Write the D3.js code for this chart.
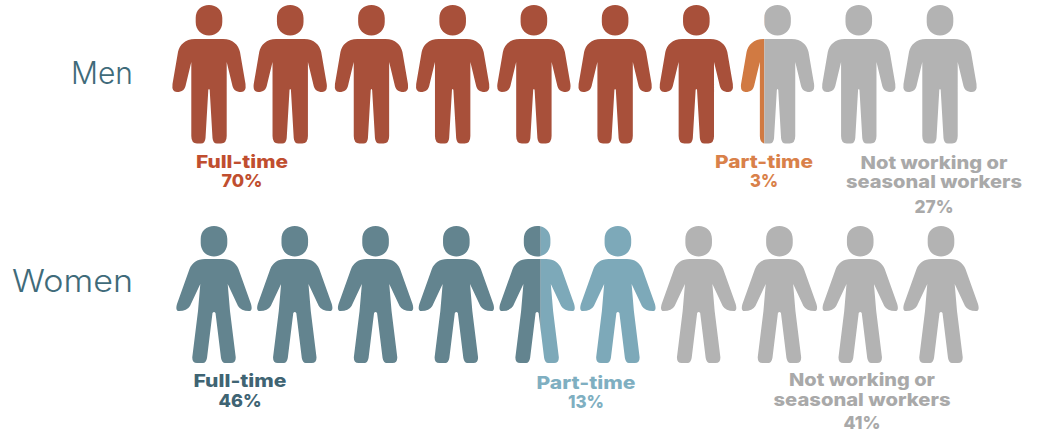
<!DOCTYPE html>
<html>
<head>
<meta charset="utf-8">
<script src="https://cdn.jsdelivr.net/npm/d3@7/dist/d3.min.js"></script>
<style>
html,body{margin:0;padding:0;background:#fff;}
svg{display:block;}
text{font-family:"Inter","Lato",sans-serif;}
</style>
</head>
<body>
<svg id="chart" width="1037" height="433"></svg>
<script>
// Employment shares, in percent of each group
const groups = ["Men", "Women"];
const statuses = ["Full-time", "Part-time", "Not working or seasonal workers"];
const menShares = [70, 3, 27];
const womenShares = [46, 13, 41];
const iconCount = 10;

const svg = d3.select("#chart");

const palette = {
  Men:   { marks: ["#a8503a", "#d17a42", "#b3b3b3"], text: ["#c04e2f", "#d9814a", "#a9a9a9"] },
  Women: { marks: ["#63848f", "#7da9b9", "#b3b3b3"], text: ["#3f6473", "#7fafc1", "#a9a9a9"] }
};

// Figures: centred on x = 0, with y measured from the top of the head
const head = "M-13.3 13C-13.3 5 -7.5 0 0 0C7.5 0 13.3 5 13.3 13V17C13.3 25 7.5 30.5 0 30.5C-7.5 30.5 -13.3 25 -13.3 17Z";
const manBody = "M-14 34H14C24 34 29.5 40 31 47L36.5 79Q37.5 87 32 87C27 87 24 85 23 79L17.7 57V131Q17.7 138.5 12 138.5H8Q4 138.5 3.5 133L0.7 85Q0 83 -0.7 85L-3.5 133Q-4 138.5 -8 138.5H-12Q-17.7 138.5 -17.7 131V57L-23 79C-24 85 -27 87 -32 87Q-37.5 87 -36.5 79L-31 47C-29.5 40 -24 34 -14 34Z";
const womanBody = "M-9 33H9C17 33 22 37 24.5 43L37 78Q39 85 35 85Q27 85 24 80L13.7 58L16 85L21.7 131Q22 137 17 137H11Q8 137 7 132L1.5 87Q0 85 -1.5 87L-7 132Q-8 137 -11 137H-17Q-22 137 -21.7 131L-16 85L-13.7 58L-24 80Q-27 85 -35 85Q-39 85 -37 78L-24.5 43C-22 37 -17 33 -9 33Z";

// Label layout for every status in each row: centre, then [text, baseline, width]
const labelLayout = {
  Men: [
    { x: 242, lines: [["Full-time", 167.5, 92], ["70%", 186.5, 41]] },
    { x: 764, lines: [["Part-time", 167.5, 98], ["3%", 186.5, 28]] },
    { x: 934, lines: [["Not working or", 169, 147], ["seasonal workers", 188, 176], ["27%", 213, 39]] }
  ],
  Women: [
    { x: 240, lines: [["Full-time", 387, 93], ["46%", 407, 43]] },
    { x: 586, lines: [["Part-time", 389, 99], ["13%", 408, 36]] },
    { x: 862, lines: [["Not working or", 386, 146], ["seasonal workers", 406, 177], ["41%", 429, 37]] }
  ]
};

const rows = [
  { name: groups[0], shares: menShares, body: manBody, top: 5, nameY: 84, nameWidth: 62,
    x: d3.scaleLinear().domain([0, iconCount - 1]).range([209, 940]) },
  { name: groups[1], shares: womenShares, body: womanBody, top: 226, nameY: 292, nameWidth: 121,
    x: d3.scaleLinear().domain([0, iconCount - 1]).range([214, 941]) }
];

// Position of a boundary across one figure, from its left side to its right
const splitX = d3.scaleLinear().domain([0, 1]).range([-30, 26]);

// A boundary within a point or so of a whole figure simply fills that figure
const snapped = v => {
  const whole = Math.round(v / (100 / iconCount)) * (100 / iconCount);
  return Math.abs(v - whole) <= 1 ? whole : v;
};

const defs = svg.append("defs");

rows.forEach((row, r) => {
  const ends = d3.cumsum(row.shares).map(snapped);
  const starts = [0, ...ends.slice(0, -1)];
  const segments = row.shares.map((_, i) => ({ start: starts[i], end: ends[i], status: i }));
  const step = 100 / iconCount;

  const icons = svg.append("g").selectAll("g")
    .data(d3.range(iconCount))
    .join("g")
    .attr("transform", i => `translate(${row.x(i)},${row.top})`);

  icons.each(function (i) {
    const g = d3.select(this);
    const lo = i * step, hi = (i + 1) * step;
    segments.filter(s => s.end > lo && s.start < hi).forEach(s => {
      const from = s.start <= lo ? -60 : splitX((s.start - lo) / step);
      const to = s.end >= hi ? 60 : splitX((s.end - lo) / step);
      const id = `clip-${r}-${i}-${s.status}`;
      defs.append("clipPath").attr("id", id)
        .append("rect").attr("x", from).attr("y", -5).attr("width", to - from).attr("height", 160);
      g.append("path")
        .attr("d", head + row.body)
        .attr("fill", palette[row.name].marks[s.status])
        .attr("clip-path", `url(#${id})`);
    });
  });

  svg.append("text")
    .attr("x", 133).attr("y", row.nameY)
    .attr("text-anchor", "end")
    .attr("font-size", 31).attr("font-weight", 300)
    .attr("fill", "#3f6b7a")
    .attr("textLength", row.nameWidth).attr("lengthAdjust", "spacingAndGlyphs")
    .text(row.name);

  labelLayout[row.name].forEach((lab, s) => {
    const t = svg.append("g").attr("fill", palette[row.name].text[s])
      .attr("font-size", 18).attr("font-weight", 800).attr("text-anchor", "middle");
    lab.lines.forEach(([txt, y, width]) => {
      t.append("text").attr("x", lab.x).attr("y", y)
        .attr("textLength", width).attr("lengthAdjust", "spacingAndGlyphs")
        .text(txt);
    });
  });
});
</script>
</body>
</html>
